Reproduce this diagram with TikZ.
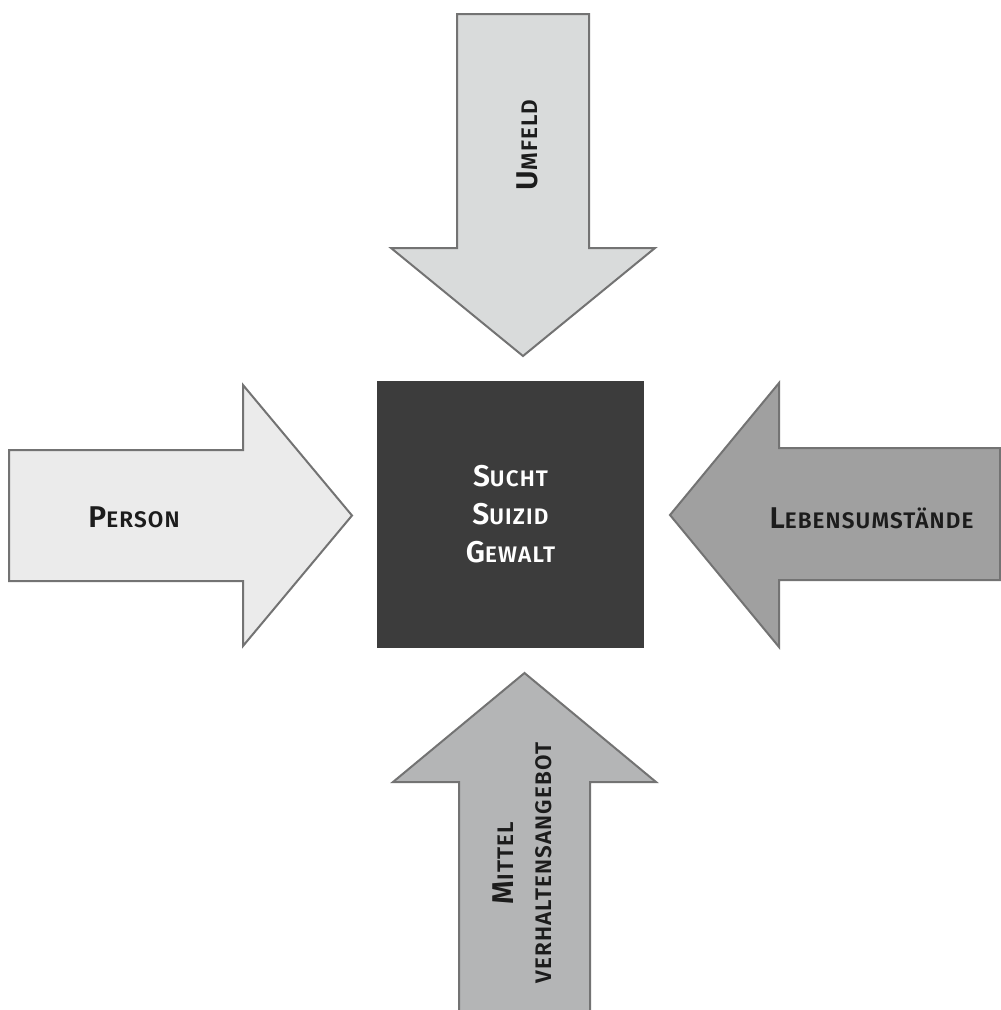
\documentclass[tikz,border=0pt]{standalone}
\usepackage{fontspec}
\setmainfont{Fira Sans}
\newfontfamily\labfont{Fira Sans}[UprightFont=* SemiBold, LetterSpace=5]
\definecolor{arrowline}{HTML}{737373}
\definecolor{fillTop}{HTML}{D9DBDB}
\definecolor{fillLeft}{HTML}{EBEBEB}
\definecolor{fillRight}{HTML}{A0A0A0}
\definecolor{fillBottom}{HTML}{B4B5B6}
\definecolor{coreFill}{HTML}{3C3C3C}
\definecolor{labelDark}{HTML}{1C1C1C}
\newcommand\capbig{\fontsize{30}{38}\selectfont}
\newcommand\capsmall{\fontsize{22.5}{38}\selectfont}
\newcommand\kap[2]{{\capbig #1}{\capsmall #2}}
\tikzset{
  bigarrow/.style={draw=arrowline, line width=2pt, line join=miter},
  lbl/.style={font=\labfont\capsmall, text=labelDark, inner sep=0pt, align=center},
}
\begin{document}
\begin{tikzpicture}[x=1pt,y=-1pt]
\useasboundingbox (0,0) rectangle (1001,1010);
\begin{scope}
\clip (0,0) rectangle (1001,1010);
% top arrow (Umfeld)
\draw[bigarrow, fill=fillTop] (457,14) -- (589,14) -- (589,248) -- (655,248) -- (523,356) -- (391,248) -- (457,248) -- cycle;
% left arrow (Person)
\draw[bigarrow, fill=fillLeft] (9,450) -- (243,450) -- (243,385) -- (352,515.5) -- (243,646) -- (243,581) -- (9,581) -- cycle;
% right arrow (Lebensumstaende)
\draw[bigarrow, fill=fillRight] (1000,448) -- (779,448) -- (779,383) -- (670,515) -- (779,647) -- (779,580) -- (1000,580) -- cycle;
% bottom arrow (Mittel)
\draw[bigarrow, fill=fillBottom] (459,1015) -- (459,782) -- (393,782) -- (524.5,673) -- (656,782) -- (590,782) -- (590,1015) -- cycle;
\end{scope}
% center square
\node[fill=coreFill, minimum size=267pt, inner sep=0pt, text=white, font=\labfont\capsmall, align=center] (core) at (510.5,514.5)
  {\kap{S}{UCHT}\\\kap{S}{UIZID}\\\kap{G}{EWALT}};
% labels
\node[lbl, anchor=base] (person) at (134,527) {\kap{P}{ERSON}};
\node[lbl, anchor=base] (leben) at (871.5,528) {\kap{L}{EBENSUMST\"ANDE}};
\node[lbl, anchor=base, rotate=90] (umfeld) at (537,145) {\kap{U}{MFELD}};
\node[lbl, rotate=90] (mittel) at (522,863) {\kap{M}{ITTEL}\\ VERHALTENSANGEBOT};
\end{tikzpicture}
\end{document}
